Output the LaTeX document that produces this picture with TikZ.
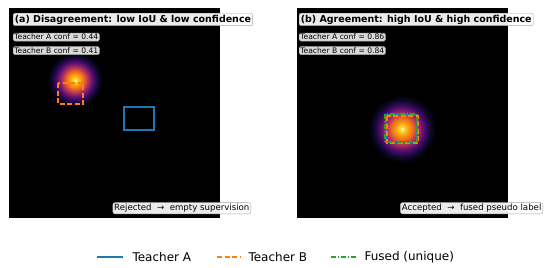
\documentclass[tikz,border=0pt]{standalone}
\usepackage{fontspec}
\setmainfont{DejaVu Sans}
\usetikzlibrary{positioning}
\definecolor{mplBlue}{HTML}{1F77B4}
\definecolor{mplOrange}{HTML}{FF7F0E}
\definecolor{mplGreen}{HTML}{2CA02C}
\definecolor{infWhite}{HTML}{FCFFA4}
\definecolor{infYellow}{HTML}{F7D13D}
\definecolor{infOrange}{HTML}{FB9B06}
\definecolor{infRed}{HTML}{ED6925}
\definecolor{infCrimson}{HTML}{BC3754}
\definecolor{infPurple}{HTML}{781C6D}
\definecolor{infViolet}{HTML}{420A68}
\definecolor{infDark}{HTML}{0D0829}
\pgfdeclareradialshading{inferno}{\pgfpoint{0bp}{0bp}}{%
  color(0bp)=(infWhite); color(2bp)=(infYellow); color(5bp)=(infOrange);
  color(8bp)=(infRed); color(11bp)=(infCrimson); color(14bp)=(infPurple);
  color(17bp)=(infViolet); color(21bp)=(infDark); color(25bp)=(black); color(50bp)=(black)}

\begin{document}
\begin{tikzpicture}[
  x=1pt,y=-1pt,
  node distance=5pt,
  panel/.style={fill=black},
  ttl/.style={draw=gray!70,fill=white,fill opacity=0.92,text opacity=1,rounded corners=2pt,
    inner sep=1.6pt,anchor=north west,font=\fontsize{9.5}{10}\selectfont\bfseries},
  conf/.style={draw=gray!70,fill=white,fill opacity=0.85,text opacity=1,rounded corners=1.5pt,
    inner sep=1.1pt,anchor=north west,font=\fontsize{7.6}{8}\selectfont},
  verdict/.style={draw=gray!70,fill=white,fill opacity=0.92,text opacity=1,rounded corners=2pt,
    inner sep=1.4pt,anchor=south east,font=\fontsize{8.6}{9}\selectfont},
  boxA/.style={draw=mplBlue,line width=1.6pt},
  boxB/.style={draw=mplOrange,line width=1.6pt,dash pattern=on 5pt off 2.5pt},
  boxF/.style={draw=mplGreen,line width=1.6pt,dash pattern=on 5pt off 2pt on 1pt off 2pt},
  legtxt/.style={anchor=west,font=\fontsize{12}{14}\selectfont}
]
  \useasboundingbox (0,0) rectangle (550,268);
  % panel (a)
  \fill[panel] (9,8) rectangle (220,218);
  \begin{scope}
    \clip (9,8) rectangle (220,218);
    \shade[shading=inferno] (75,80) circle (28);
  \end{scope}
  \draw[boxB] (58,83) rectangle (83,104);
  \draw[boxA] (124,107) rectangle (154,130);
  \node[ttl] (titleA) at (13,13) {(a) Disagreement: low IoU \& low confidence};
  \node[conf,below=7pt of titleA.south west,anchor=north west] (confAa) {Teacher A conf = 0.44};
  \node[conf,below=5pt of confAa.south west,anchor=north west] (confBa) {Teacher B conf = 0.41};
  \node[verdict] (rejected) at (251,214) {Rejected~~→~~empty supervision};
  % panel (b)
  \fill[panel] (297,8) rectangle (508,218);
  \begin{scope}
    \clip (297,8) rectangle (508,218);
    \shade[shading=inferno] (402,129) circle (34);
  \end{scope}
  \draw[boxA] (386,115) rectangle (417,142);
  \draw[boxB] (387,116) rectangle (418,143);
  \draw[boxF] (385,114) rectangle (417,142);
  \node[ttl] (titleB) at (299,13) {(b) Agreement: high IoU \& high confidence};
  \node[conf,below=7pt of titleB.south west,anchor=north west] (confAb) {Teacher A conf = 0.86};
  \node[conf,below=5pt of confAb.south west,anchor=north west] (confBb) {Teacher B conf = 0.84};
  \node[verdict] (accepted) at (543,214) {Accepted~~→~~fused pseudo label};
  % legend
  \coordinate (legA0) at (97,257);  \coordinate (legA1) at (123,257);
  \coordinate (legB0) at (217,257); \coordinate (legB1) at (240,257);
  \coordinate (legF0) at (331,257); \coordinate (legF1) at (358,257);
  \draw[boxA] (legA0) -- (legA1);
  \draw[boxB] (legB0) -- (legB1);
  \draw[boxF] (legF0) -- (legF1);
  \node[legtxt] (legtxtA) at (129,257) {Teacher A};
  \node[legtxt] (legtxtB) at (245,257) {Teacher B};
  \node[legtxt] (legtxtF) at (361,257) {Fused (unique)};
\end{tikzpicture}
\end{document}
